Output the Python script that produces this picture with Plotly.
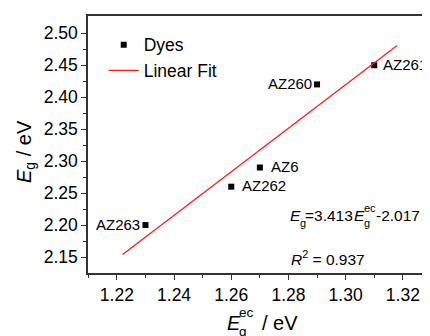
import plotly.graph_objects as go

dyes = ["AZ263", "AZ262", "AZ6", "AZ260", "AZ261"]
eg_ec = [1.23, 1.26, 1.27, 1.29, 1.31]
eg = [2.20, 2.26, 2.29, 2.42, 2.45]
fit_x = [1.222, 1.318]
fit_y = [2.154, 2.481]
label_side = ["left", "right", "right", "left", "right"]
label_gap = [5, 11, 11, 5, 9]
x_ticks = [1.22, 1.24, 1.26, 1.28, 1.30, 1.32]
x_tick_labels = ["1.22", "1.24", "1.26", "1.28", "1.30", "1.32"]
y_ticks = [2.15, 2.20, 2.25, 2.30, 2.35, 2.40, 2.45, 2.50]
y_tick_labels = ["2.15", "2.20", "2.25", "2.30", "2.35", "2.40", "2.45", "2.50"]
fit_slope = "3.413"
fit_intercept = "-2.017"
r_squared = "0.937"

FONT = "Liberation Sans, Arial, sans-serif"

# plot area in screen pixels (the page body adds an 8px offset)
PX0, PX1, PY0, PY1 = 88, 430, 16, 273


def px(x):
    return (x - PX0) / (PX1 - PX0)


def py(y):
    return (PY1 - y) / (PY1 - PY0)


fig = go.Figure()
fig.add_trace(go.Scatter(x=eg_ec, y=eg, mode="markers", name="Dyes",
                         marker=dict(symbol="square", size=6, color="black")))
fig.add_trace(go.Scatter(x=fit_x, y=fit_y, mode="lines", name="Linear Fit",
                         line=dict(color="#ff1a1a", width=1.3)))

for d, x, y, s, g in zip(dyes, eg_ec, eg, label_side, label_gap):
    fig.add_annotation(x=x, y=y, text=d, showarrow=False,
                       xanchor="right" if s == "left" else "left",
                       xshift=-g if s == "left" else g, yshift=1,
                       borderpad=0, borderwidth=0,
                       font=dict(size=15, color="black", family=FONT))


def txt(x, y, text, size, angle=0, anchor="left"):
    fig.add_annotation(xref="paper", yref="paper", x=px(x), y=py(y), text=text,
                       showarrow=False, xanchor=anchor, yanchor="middle",
                       textangle=angle, borderpad=0, borderwidth=0,
                       font=dict(size=size, color="black", family=FONT))


# fit equation with stacked super/subscripts
txt(290, 215, "<i>E</i>", 15.5)
txt(300, 223, "g", 11)
txt(305, 215, "=" + fit_slope, 15.5)
txt(354, 215, "<i>E</i>", 15.5)
txt(364, 208, "ec", 11)
txt(364, 223, "g", 11)
txt(376, 215, fit_intercept, 15.5)

# R^2
txt(291, 258, "<i>R</i><sup>2</sup> = " + r_squared, 15.5)

# x axis title with stacked super/subscripts
txt(227, 323, "<i>E</i>", 20)
txt(239, 312, "ec", 13.5)
txt(239, 331, "g", 13.5)
txt(262, 323, "/ eV", 20)

# y axis title
txt(25, 152, "<i>E</i><sub>g</sub> / eV", 20, angle=-90, anchor="center")

fig.update_layout(
    width=430, height=336,
    margin=dict(l=80, r=8, t=8, b=71, autoexpand=False),
    paper_bgcolor="white", plot_bgcolor="white",
    font=dict(family=FONT, size=17, color="black"),
    showlegend=True,
    legend=dict(x=0.046, y=0.958, xanchor="left", yanchor="top",
                bgcolor="rgba(0,0,0,0)", font=dict(size=17.5, family=FONT),
                itemwidth=30, tracegroupgap=0),
    xaxis=dict(range=[1.2099, 1.3295], tickvals=x_ticks, ticktext=x_tick_labels,
               ticks="outside", ticklen=5, tickwidth=1.3, tickcolor="#333",
               showline=True, linecolor="#333", linewidth=1.5, mirror=True,
               showgrid=False, zeroline=False, automargin=False,
               minor=dict(tickvals=[1.21, 1.23, 1.25, 1.27, 1.29, 1.31], ticks="outside",
                          ticklen=3, tickcolor="#333"),
               tickfont=dict(size=17.5)),
    yaxis=dict(range=[2.125, 2.527], tickvals=y_ticks, ticktext=y_tick_labels,
               ticks="outside", ticklen=5, tickwidth=1.3, tickcolor="#333",
               showline=True, linecolor="#333", linewidth=1.5, mirror=False,
               showgrid=False, zeroline=False, automargin=False,
               minor=dict(tickvals=[2.175, 2.225, 2.275, 2.325, 2.375, 2.425, 2.475],
                          ticks="outside", ticklen=3, tickcolor="#333"),
               tickfont=dict(size=17.5)),
)

fig.write_html("out.html")
